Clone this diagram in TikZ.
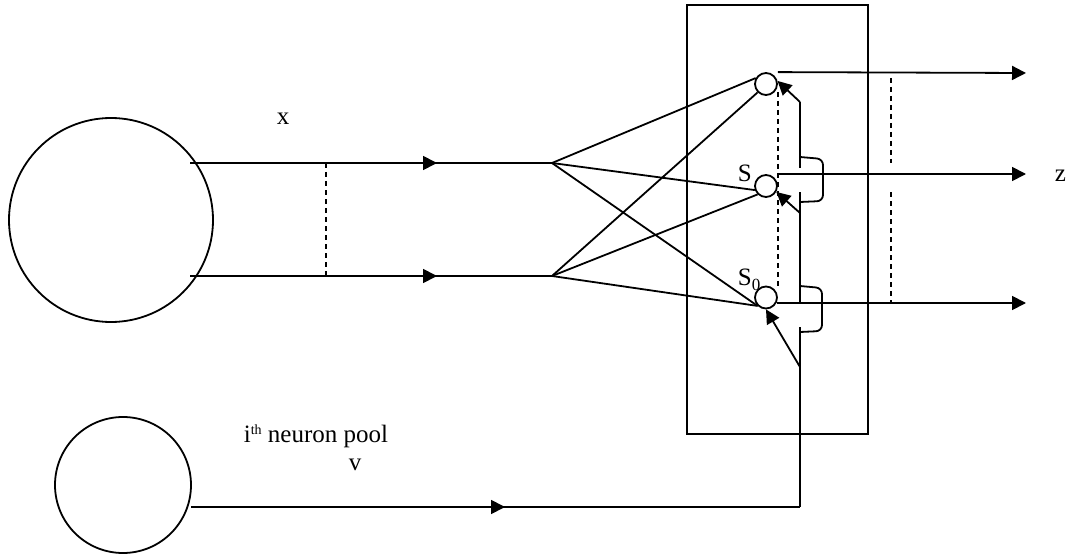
\documentclass[tikz,border=0pt]{standalone}
\usepackage{fontspec}
\setmainfont{Liberation Serif}
\usetikzlibrary{arrows.meta,decorations.markings,calc}
\begin{document}
\begin{tikzpicture}[x=1pt,y=-1pt,line width=1.8pt,
  >={Triangle[length=14pt,width=14pt]},
  neuron/.style={circle,draw,inner sep=0pt,minimum size=22pt},
  dashwire/.style={dash pattern=on 5pt off 4pt},
  midarrow/.style={postaction={decorate,decoration={markings,
      mark=at position #1 with {\arrow{>}}}}},
  lbl/.style={font=\fontsize{25}{25}\selectfont,inner sep=0pt}]
\useasboundingbox (0,0) rectangle (1067,556);

% neuron pools
\node[neuron,minimum size=204pt] (pool) at (111,220) {};
\node[neuron,minimum size=136pt] (ipool) at (123,485) {};

% layer box and its units
\node[draw,minimum width=181pt,minimum height=429pt,inner sep=0pt] (box) at (777.5,219.5) {};
\node[neuron] (c1) at (766,84) {};
\node[neuron] (cS) at (766,186) {};
\node[neuron] (cS0) at (766,297.5) {};

% input bundle
\coordinate (x1) at (190,163);
\coordinate (x2) at (190,276);
\coordinate (f1) at (552,163);
\coordinate (f2) at (552,276);
\coordinate (d1) at (326,163);
\coordinate (d2) at (326,276);
\draw[midarrow=247pt] (x1) -- (f1);
\draw[midarrow=247pt] (x2) -- (f2);
\draw[dashwire] (d1) -- (d2);

% full connections into the units
\draw (f1) -- (c1.150);
\draw (f1) -- (cS.200);
\draw (f1) -- (cS0.225);
\draw (f2) -- (c1.225);
\draw (f2) -- (cS.225);
\draw (f2) -- (cS0.225);

% outputs
\coordinate (o3) at (777,303);
\coordinate (t1) at (1026,73);
\coordinate (t2) at (1026,174);
\coordinate (t3) at (1026,303);
\draw[->] (c1.north -| c1.east) -- (t1);
\draw[->] (cS.north -| cS.east) -- (t2);
\draw[->] (o3) -- (t3);
\draw[dashwire] ($(c1.east)+(0,8)$) -- ($(cS0.east)+(0,-8)$);
\coordinate (r1) at (891,78);
\coordinate (r2) at (891,163);
\coordinate (r3) at (891,192);
\coordinate (r4) at (891,303);
\draw[dashwire] (r1) -- (r2);
\draw[dashwire] (r3) -- (r4);

% feedback line from the i-th pool
\coordinate (vin) at (191,507);
\coordinate (vc) at (800,507);
\coordinate (v1) at (800,327);
\coordinate (v2) at (800,303);
\coordinate (v3) at (800,192);
\coordinate (v4) at (800,168);
\coordinate (v5) at (800,102);
\coordinate (b1) at (800,213);
\coordinate (b0) at (800,367);
\draw[midarrow=314pt] (vin) -- (vc);
\draw (vc) -- (v1);
\draw (v2) -- (v3);
\draw (v4) -- (v5);
\draw[->] (v5) -- (c1.15);
\draw[->] (b1) -- (cS.-30);
\draw[->] (b0) -- (cS0.-90);

% hops over the output lines
\draw[rounded corners=6pt] (800,157) -- (823,159) -- (823,201) -- (800,202);
\draw[rounded corners=6pt] (800,286) -- (822,288) -- (822,331) -- (800,332);

% labels
\node[lbl,anchor=base] (lx) at (283,125) {x};
\node[lbl,anchor=base west] (lz) at (1054,182) {z};
\node[lbl,anchor=base west] (lS) at (737,182) {S};
\node[lbl,anchor=base west] (lS0) at (737,285) {S\raisebox{-5pt}{\fontsize{17}{17}\selectfont 0}};
\node[lbl,anchor=base west] (lpool) at (243,442) {i\raisebox{8pt}{\fontsize{14}{14}\selectfont th} neuron pool};
\node[lbl,anchor=base] (lv) at (355,470) {v};
\end{tikzpicture}
\end{document}
